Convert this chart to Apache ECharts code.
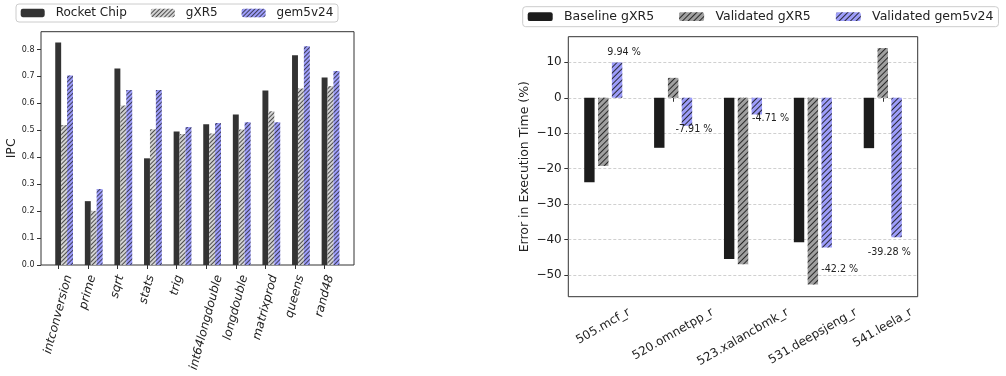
<!DOCTYPE html>
<html><head><meta charset="utf-8">
<script src="https://cdn.jsdelivr.net/npm/echarts@6/dist/echarts.min.js"></script>
<style>html,body{margin:0;padding:0;background:#fff}#c{width:1006px;height:376px}</style>
</head><body><div id="c"></div>
<script>
// ---------- data ----------
const leftCategories = ['intconversion','prime','sqrt','stats','trig','int64longdouble','longdouble','matrixprod','queens','rand48'];
const rocketChip = [0.826,0.237,0.729,0.396,0.496,0.522,0.559,0.648,0.779,0.696];
const gxr5 = [0.520,0.201,0.592,0.504,0.486,0.488,0.503,0.571,0.655,0.664];
const gem5v24 = [0.703,0.282,0.650,0.650,0.512,0.527,0.530,0.530,0.812,0.720];
const leftYTicks = [0.0,0.1,0.2,0.3,0.4,0.5,0.6,0.7,0.8];

const rightCategories = ['505.mcf_r','520.omnetpp_r','523.xalancbmk_r','531.deepsjeng_r','541.leela_r'];
const baselineGxr5 = [-23.8,-14.1,-45.4,-40.7,-14.2];
const validatedGxr5 = [-19.2,5.6,-46.9,-52.6,14.0];
const validatedGem5v24 = [9.94,-7.91,-4.71,-42.2,-39.28];
const rightYTicks = [-50,-40,-30,-20,-10,0,10];

// ---------- helpers ----------
const FONT = "'DejaVu Sans', sans-serif";
const TXT = '#222';

// rotated category labels whose bounding box is centred under the tick (matplotlib style)
function mplRotatedLabels(cats, fontSize, fontStyle, deg, gap) {
  const ctx = document.createElement('canvas').getContext('2d');
  ctx.font = fontStyle + ' ' + fontSize + "px 'DejaVu Sans'";
  const th = deg * Math.PI / 180, s = Math.sin(th), c = Math.cos(th);
  const h = fontSize * 1.17;
  const half = cats.map(t => (ctx.measureText(t).width * s + h * c) / 2);
  const minD = h / (2 * c) + 0.5;
  const K = Math.max(0, ...half.map(d => minD - d));
  const items = cats.map((t, i) => {
    const D = K + half[i];
    return { value: t, textStyle: { align: 'center', verticalAlign: 'top', lineHeight: h,
      padding: [D * c - h / 2, 2 * D * s, 0, 0] } };
  });
  return { items, margin: gap - K };
}

function hatch(step, alpha) {
  return { symbol: 'rect', symbolSize: 1, color: 'rgba(20,20,20,' + alpha + ')',
           dashArrayX: [1, 0], dashArrayY: [1, step], rotation: -Math.PI / 4 };
}

const leftLab = mplRotatedLabels(leftCategories, 12, 'italic', 75, 8.5);
const rightLab = mplRotatedLabels(rightCategories, 12, 'normal', 30, 8.5);

// left chart geometry
const L = { left: 41, top: 31.7, width: 313, height: 233.3 };
const catW = 29.6, barW = 5.92;
const barsLeft = 58.2 + barW - catW / 2;

const R = { left: 568.3, top: 36.7, width: 349.4, height: 260 };

const hiddenX = (gi, cats) => ({ type: 'category', gridIndex: gi, data: cats, show: false });
const hiddenY = (gi, mn, mx) => ({ type: 'value', gridIndex: gi, min: mn, max: mx, show: false });

const gemLabelCfg = [
  { position: 'top', offset: [7, 0.5] },
  { position: 'bottom', offset: [7, -6.3] },
  { position: 'bottom', offset: [13.7, -5.9] },
  { position: 'bottom', offset: [13, 11.7] },
  { position: 'bottom', offset: [-7.3, 5.4] }
];

const chart = echarts.init(document.getElementById('c'), null, { renderer: 'canvas' });
chart.setOption({
  animation: false,
  textStyle: { fontFamily: FONT },
  legend: [
    { left: 16, top: 4, data: ['Rocket Chip', 'gXR5', 'gem5v24'], selectedMode: false,
      itemWidth: 24, itemHeight: 8.4, itemGap: 24, padding: [3, 4.7, 3, 4.7],
      borderColor: '#ccc', borderWidth: 1, borderRadius: 3, backgroundColor: '#fff',
      textStyle: { fontSize: 12, color: TXT, fontFamily: FONT, padding: [0, 0, 0, 6] } },
    { left: 522.7, top: 6.7, data: ['Baseline gXR5', 'Validated gXR5', 'Validated gem5v24'], selectedMode: false,
      itemWidth: 25, itemHeight: 8.75, itemGap: 25, padding: [3.5, 5, 3.5, 5],
      borderColor: '#ccc', borderWidth: 1, borderRadius: 3, backgroundColor: '#fff',
      textStyle: { fontSize: 12.5, color: TXT, fontFamily: FONT, padding: [0, 0, 0, 6.3] } }
  ],
  grid: [
    Object.assign({ show: true, borderColor: '#333', borderWidth: 1, outerBoundsMode: 'none' }, L),
    { left: barsLeft, top: L.top, width: catW * 10, height: L.height, outerBoundsMode: 'none' },
    { left: barsLeft - barW, top: L.top, width: catW * 10, height: L.height, outerBoundsMode: 'none' },
    Object.assign({ show: true, borderColor: '#333', borderWidth: 1, outerBoundsMode: 'none' }, R)
  ],
  xAxis: [
    hiddenX(0, leftCategories),
    hiddenX(1, leftCategories),
    { type: 'category', gridIndex: 2, data: leftLab.items, boundaryGap: true,
      axisLine: { show: false },
      axisTick: { show: true, alignWithLabel: true, length: 4, lineStyle: { color: '#333' } },
      axisLabel: { interval: 0, rotate: 75, margin: leftLab.margin, fontSize: 12, fontStyle: 'italic',
                   color: TXT, fontFamily: FONT } },
    { type: 'category', gridIndex: 3, data: rightLab.items, boundaryGap: true,
      axisLine: { show: false },
      axisTick: { show: true, alignWithLabel: true, length: 4, lineStyle: { color: '#333' } },
      axisLabel: { interval: 0, rotate: 30, margin: rightLab.margin, fontSize: 12,
                   color: TXT, fontFamily: FONT } }
  ],
  yAxis: [
    { type: 'value', gridIndex: 0, min: 0, max: 0.866,
      name: 'IPC', nameLocation: 'middle', nameGap: 20,
      nameTextStyle: { fontSize: 12.5, color: TXT, fontFamily: FONT },
      axisLine: { show: false }, splitLine: { show: false },
      axisTick: { show: true, length: 4, customValues: leftYTicks, lineStyle: { color: '#333' } },
      axisLabel: { customValues: leftYTicks, fontSize: 8, color: TXT, margin: 6.5, fontFamily: FONT,
                   formatter: v => v.toFixed(1) } },
    hiddenY(1, 0, 0.866),
    hiddenY(2, 0, 0.866),
    { type: 'value', gridIndex: 3, min: -56.05, max: 17.2,
      name: 'Error in Execution Time (%)', nameLocation: 'middle', nameGap: 37,
      nameTextStyle: { fontSize: 12.5, color: TXT, fontFamily: FONT },
      axisLine: { show: false },
      splitLine: { show: true, lineStyle: { color: '#c4c4c4', type: [3, 2], width: 0.8 } },
      axisTick: { show: true, length: 4, customValues: rightYTicks, lineStyle: { color: '#333' } },
      axisLabel: { customValues: rightYTicks, fontSize: 12, color: TXT, margin: 6.6, fontFamily: FONT,
                   formatter: v => (v < 0 ? '\u2212' + Math.abs(v) : String(v)) } }
  ],
  series: [
    { type: 'bar', name: 'Rocket Chip', xAxisIndex: 1, yAxisIndex: 1, data: rocketChip,
      barWidth: barW, barGap: '0%', itemStyle: { color: '#333333' } },
    { type: 'bar', name: 'gXR5', xAxisIndex: 1, yAxisIndex: 1, data: gxr5,
      barWidth: barW, barGap: '0%', itemStyle: { color: '#d3d3d3', decal: hatch(2, 0.7) } },
    { type: 'bar', name: 'gem5v24', xAxisIndex: 1, yAxisIndex: 1, data: gem5v24,
      barWidth: barW, barGap: '0%', itemStyle: { color: '#9d9dfa', decal: hatch(2, 0.7) } },

    { type: 'bar', name: 'Baseline gXR5', xAxisIndex: 3, yAxisIndex: 3, data: baselineGxr5,
      barWidth: 10.4, barGap: '33%', itemStyle: { color: '#1c1c1c' } },
    { type: 'bar', name: 'Validated gXR5', xAxisIndex: 3, yAxisIndex: 3, data: validatedGxr5,
      barWidth: 10.4, barGap: '33%', itemStyle: { color: '#a0a0a0', decal: hatch(3, 0.85) } },
    { type: 'bar', name: 'Validated gem5v24', xAxisIndex: 3, yAxisIndex: 3,
      data: validatedGem5v24.map((v, i) => ({ value: v,
        label: Object.assign({ show: true, distance: 5, fontSize: 9.6, color: TXT, fontFamily: FONT,
                               formatter: p => p.value + ' %' }, gemLabelCfg[i]) })),
      barWidth: 10.4, barGap: '33%', itemStyle: { color: '#9d9dfa', decal: hatch(3, 0.85) } }
  ]
});
</script>
</body></html>
